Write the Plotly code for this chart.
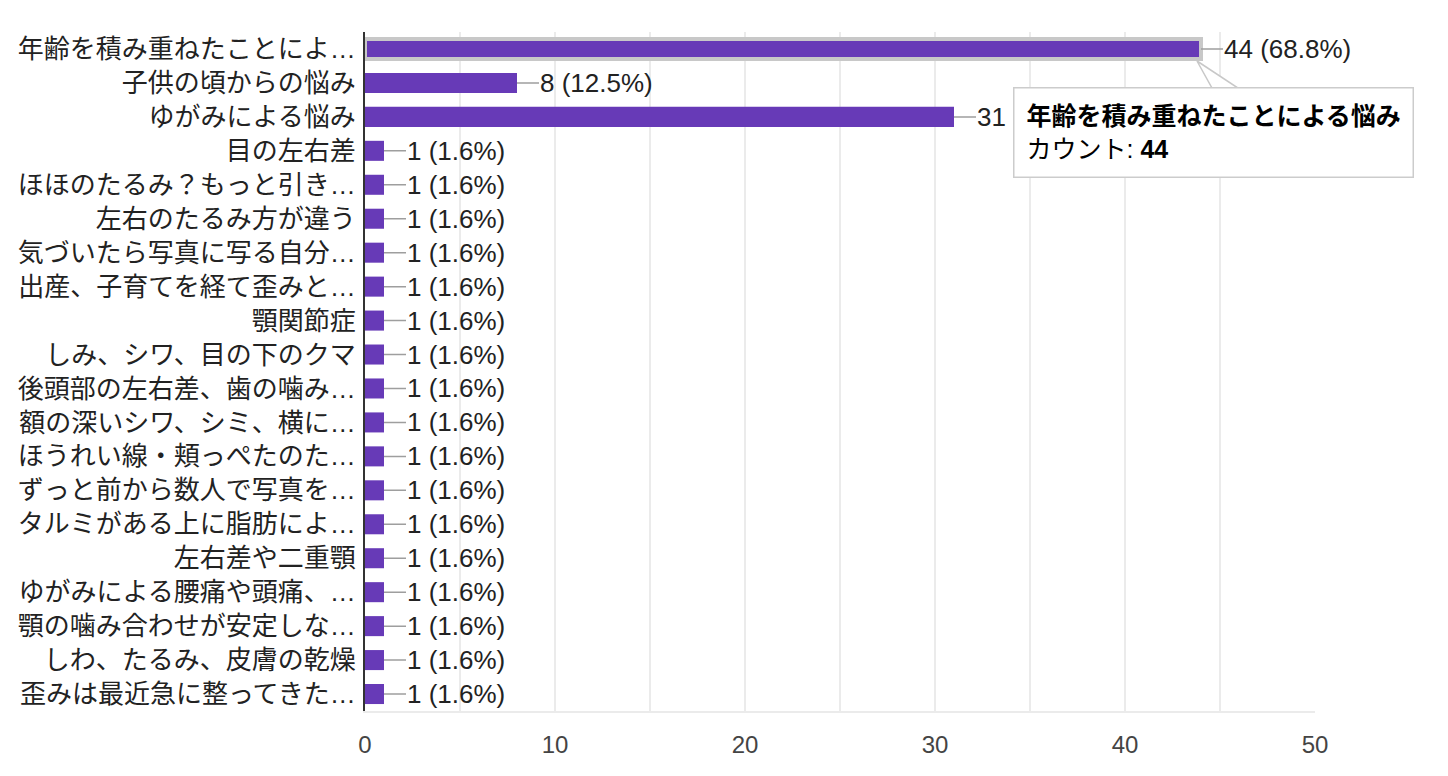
import plotly.graph_objects as go

categories = [
    "年齢を積み重ねたことによ…",
    "子供の頃からの悩み",
    "ゆがみによる悩み",
    "目の左右差",
    "ほほのたるみ？もっと引き…",
    "左右のたるみ方が違う",
    "気づいたら写真に写る自分…",
    "出産、子育てを経て歪みと…",
    "顎関節症",
    "しみ、シワ、目の下のクマ",
    "後頭部の左右差、歯の噛み…",
    "額の深いシワ、シミ、横に…",
    "ほうれい線・頬っぺたのた…",
    "ずっと前から数人で写真を…",
    "タルミがある上に脂肪によ…",
    "左右差や二重顎",
    "ゆがみによる腰痛や頭痛、…",
    "顎の噛み合わせが安定しな…",
    "しわ、たるみ、皮膚の乾燥",
    "歪みは最近急に整ってきた…",
]
counts = [44, 8, 31, 1, 1, 1, 1, 1, 1, 1, 1, 1, 1, 1, 1, 1, 1, 1, 1, 1]
percents = ["68.8%", "12.5%", "48.4%"] + ["1.6%"] * 17
x_ticks = [0, 10, 20, 30, 40, 50]
tooltip_title = "年齢を積み重ねたことによる悩み"
tooltip_label = "カウント"
tooltip_value = 44

FONT = "Liberation Sans, Arial, Noto Sans CJK JP, sans-serif"
BAR = "#673ab7"

line_w = [4] + [0] * (len(counts) - 1)

fig = go.Figure(
    go.Bar(
        x=counts,
        y=categories,
        orientation="h",
        marker=dict(color=BAR, line=dict(width=line_w, color="#c8c8c8")),
        hoverinfo="skip",
    )
)

annotations = []
for c, v, p in zip(categories, counts, percents):
    annotations.append(
        dict(
            x=v, y=c, xref="x", yref="y",
            text=f"{v} ({p})",
            showarrow=True, arrowhead=0, arrowwidth=1.5, arrowcolor="#9e9e9e",
            ax=22, ay=0, xanchor="left", yanchor="middle", standoff=0,
            borderpad=0,
            font=dict(family=FONT, size=26, color="#222222"),
        )
    )

L, R, T, B = 365, 133, 32, 65
W, H = 1448, 776
pw, ph = W - L - R, H - T - B


def px(xp):
    return (xp - L) / pw


def py(yp):
    return 1 - (yp - T) / ph


# tooltip callout tail
fig.add_shape(
    type="path",
    xref="paper", yref="paper",
    path=f"M {px(1197)} {py(61)} L {px(1212)} {py(88)} L {px(1238)} {py(88)} Z",
    fillcolor="white",
    line=dict(color="#c8c8c8", width=1.5),
    layer="above",
)

annotations.append(
    dict(
        x=px(1013), y=py(87), xref="paper", yref="paper",
        xanchor="left", yanchor="top",
        text=f"<b>{tooltip_title}</b><br>{tooltip_label}: <b>{tooltip_value}</b>",
        showarrow=False, align="left",
        bgcolor="white", bordercolor="#cccccc", borderwidth=1.5, borderpad=12,
        width=374, height=64,
        font=dict(family=FONT, size=25, color="#000000"),
    )
)

fig.update_layout(
    width=W, height=H,
    margin=dict(l=L, r=R, t=T, b=B, pad=0),
    paper_bgcolor="white", plot_bgcolor="white",
    bargap=0.41,
    showlegend=False,
    font=dict(family=FONT, size=24, color="#222222"),
    annotations=annotations,
    xaxis=dict(
        range=[0, 50],
        tickvals=x_ticks,
        showgrid=True, gridcolor="#ebebeb", gridwidth=2,
        minor=dict(dtick=5, showgrid=True, gridcolor="#ebebeb", gridwidth=2),
        showline=True, linecolor="#ebebeb", linewidth=2,
        zeroline=False,
        ticks="", ticklabelstandoff=11,
        tickfont=dict(family=FONT, size=24, color="#444444"),
        fixedrange=True,
    ),
    yaxis=dict(
        type="category",
        categoryorder="array", categoryarray=categories,
        range=[len(categories) - 0.5, -0.5],
        showgrid=False, zeroline=False,
        showline=True, linecolor="#333333", linewidth=2,
        ticks="", ticklabelstandoff=2,
        tickfont=dict(family=FONT, size=26, color="#222222"),
        fixedrange=True,
    ),
)

fig.write_html("out.html")
